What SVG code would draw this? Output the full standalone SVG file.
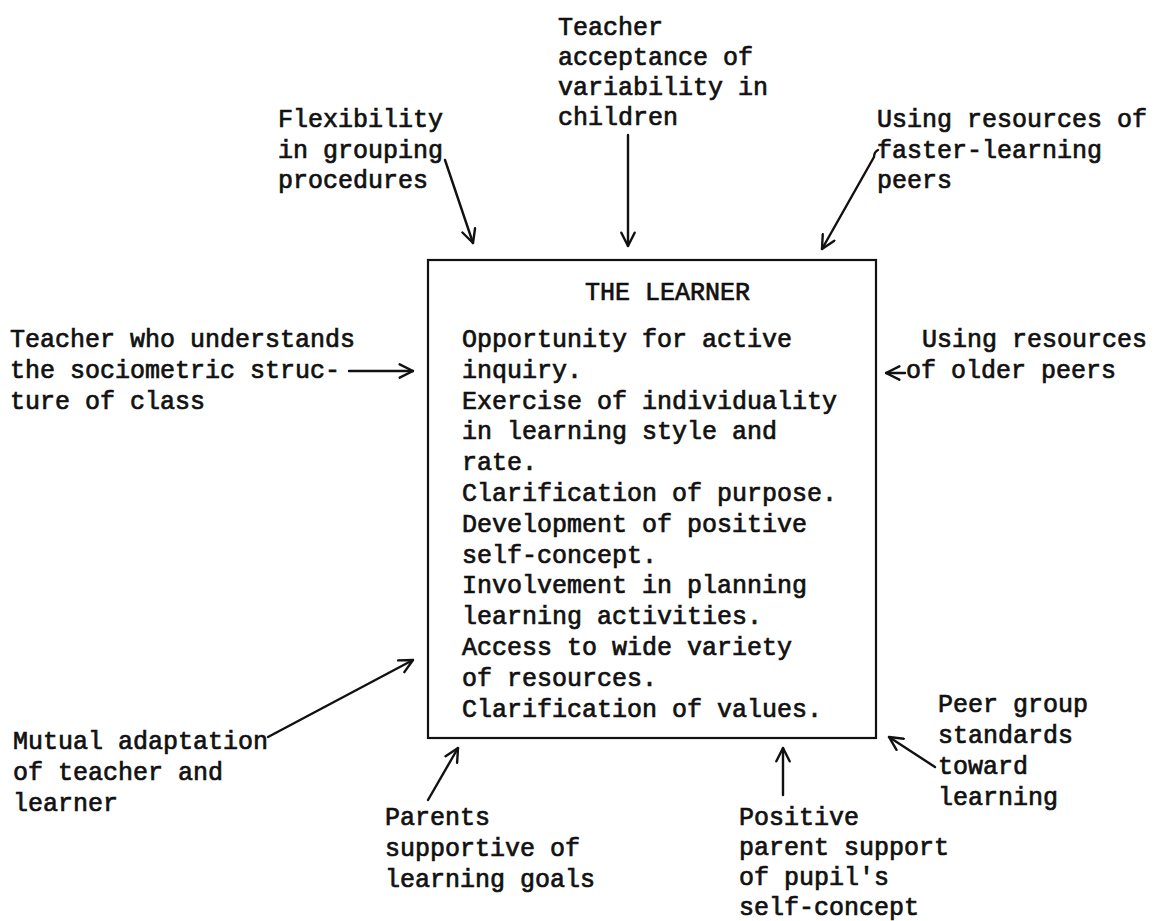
<svg xmlns="http://www.w3.org/2000/svg" width="1158" height="921" viewBox="0 0 1158 921">
  <style>
    text { font-family: "Liberation Mono", "Courier New", monospace; font-size: 25px; fill: #111; stroke: #111; stroke-width: 0.7px; }
    .edge { fill: none; stroke: #111; stroke-width: 2.4; stroke-linecap: round; }
    .box { fill: none; stroke: #111; stroke-width: 2.2; }
  </style>
  <defs>
    <marker id="vhead" viewBox="0 0 12 12" refX="11" refY="6" markerWidth="16" markerHeight="16" markerUnits="userSpaceOnUse" orient="auto">
      <path d="M1,1 L11,6 L1,11" fill="none" stroke="#111" stroke-width="1.8" stroke-linecap="round" stroke-linejoin="round"/>
    </marker>
  </defs>
  <rect width="1158" height="921" fill="#fff"/>

  <!-- central box -->
  <g id="learner">
    <rect class="box" x="428" y="260" width="448" height="478"/>
    <text x="585" y="300">THE LEARNER</text>
    <text x="462" y="347">Opportunity for active</text>
    <text x="462" y="378">inquiry.</text>
    <text x="462" y="409">Exercise of individuality</text>
    <text x="462" y="439">in learning style and</text>
    <text x="462" y="470">rate.</text>
    <text x="462" y="501">Clarification of purpose.</text>
    <text x="462" y="532">Development of positive</text>
    <text x="462" y="563">self-concept.</text>
    <text x="462" y="593">Involvement in planning</text>
    <text x="462" y="624">learning activities.</text>
    <text x="462" y="655">Access to wide variety</text>
    <text x="462" y="686">of resources.</text>
    <text x="462" y="717">Clarification of values.</text>
  </g>

  <g id="flexibility">
    <text x="278" y="127">Flexibility</text>
    <text x="278" y="158">in grouping</text>
    <text x="278" y="188">procedures</text>
  </g>
  <g id="teacher-acceptance">
    <text x="558" y="35">Teacher</text>
    <text x="558" y="65">acceptance of</text>
    <text x="558" y="95">variability in</text>
    <text x="558" y="125">children</text>
  </g>
  <g id="faster-peers">
    <text x="877" y="127">Using resources of</text>
    <text x="877" y="158">faster-learning</text>
    <text x="877" y="188">peers</text>
  </g>
  <g id="sociometric">
    <text x="10" y="347">Teacher who understands</text>
    <text x="10" y="378">the sociometric struc-</text>
    <text x="10" y="409">ture of class</text>
  </g>
  <g id="older-peers">
    <text x="922" y="347">Using resources</text>
    <text x="906" y="378">of older peers</text>
  </g>
  <g id="mutual-adaptation">
    <text x="13" y="749">Mutual adaptation</text>
    <text x="13" y="780">of teacher and</text>
    <text x="13" y="811">learner</text>
  </g>
  <g id="parents-supportive">
    <text x="385" y="825">Parents</text>
    <text x="385" y="856">supportive of</text>
    <text x="385" y="887">learning goals</text>
  </g>
  <g id="parent-support">
    <text x="739" y="825">Positive</text>
    <text x="739" y="855">parent support</text>
    <text x="739" y="885">of pupil's</text>
    <text x="739" y="915">self-concept</text>
  </g>
  <g id="peer-standards">
    <text x="938" y="712">Peer group</text>
    <text x="938" y="743">standards</text>
    <text x="938" y="774">toward</text>
    <text x="938" y="805">learning</text>
  </g>

  <!-- influences pointing at the learner -->
  <g id="connectors">
    <path class="edge" d="M445,160 L473,243" marker-end="url(#vhead)"/>
    <path class="edge" d="M628,135 L628,246" marker-end="url(#vhead)"/>
    <path class="edge" d="M878,150 Q874,152 874,157 L822,249" marker-end="url(#vhead)"/>
    <path class="edge" d="M349,371 L413,371" marker-end="url(#vhead)"/>
    <path class="edge" d="M905,373 L886,373" marker-end="url(#vhead)"/>
    <path class="edge" d="M268,737 L413,660" marker-end="url(#vhead)"/>
    <path class="edge" d="M428,800 L458,748" marker-end="url(#vhead)"/>
    <path class="edge" d="M783,795 L783,748" marker-end="url(#vhead)"/>
    <path class="edge" d="M935,767 L889,737" marker-end="url(#vhead)"/>
  </g>
</svg>
